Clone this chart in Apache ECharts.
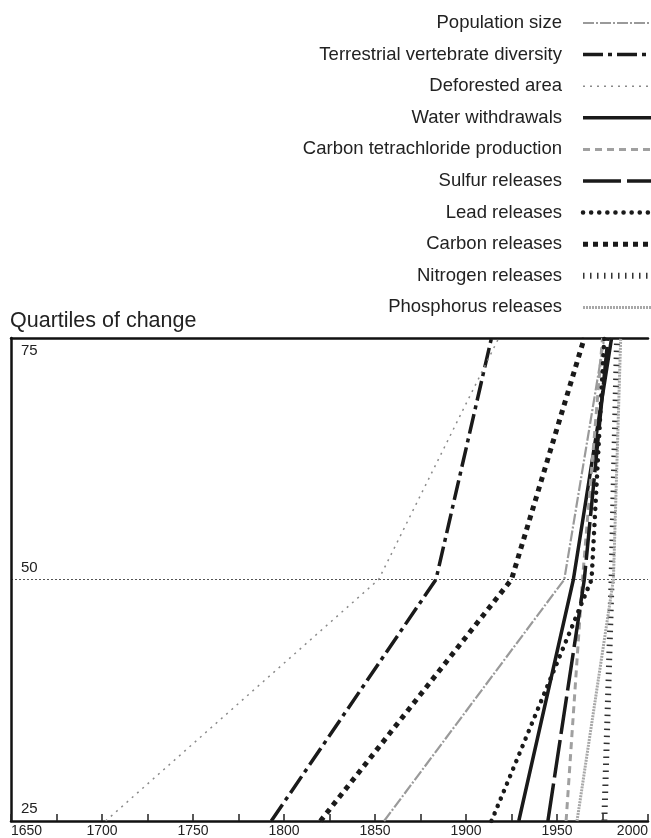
<!DOCTYPE html>
<html>
<head>
<meta charset="utf-8">
<script src="https://cdn.jsdelivr.net/npm/echarts@6/dist/echarts.min.js"></script>
<style>
html,body{margin:0;padding:0;background:#fff;}
#chart{width:651px;height:838px;}
</style>
</head>
<body>
<div id="chart"></div>
<script>
// Quartile levels (y) and the year at which each series reached them (x)
var quartiles = [25, 50, 75];
var seriesNames = [
  'Population size',
  'Terrestrial vertebrate diversity',
  'Deforested area',
  'Water withdrawals',
  'Carbon tetrachloride production',
  'Sulfur releases',
  'Lead releases',
  'Carbon releases',
  'Nitrogen releases',
  'Phosphorus releases'
];
var populationYears    = [1855, 1954, 1976];
var terrestrialYears   = [1793, 1883.5, 1914];
var deforestedYears    = [1702, 1852, 1918];
var waterYears         = [1929, 1959, 1980];
var carbonTetYears     = [1955, 1964, 1975];
var sulfurYears        = [1945, 1965, 1978];
var leadYears          = [1914, 1969, 1976];
var carbonYears        = [1820, 1925, 1965];
var nitrogenYears      = [1976, 1980, 1983];
var phosphorusYears    = [1961, 1981, 1985];
var xTickLabels = [1650, 1700, 1750, 1800, 1850, 1900, 1950, 2000];

var yearsList = [populationYears, terrestrialYears, deforestedYears, waterYears, carbonTetYears,
                 sulfurYears, leadYears, carbonYears, nitrogenYears, phosphorusYears];

var styles = [
  {color:'#9a9a9a', width:2.2, type:[11,2,2,2]},
  {color:'#1a1a1a', width:3.5, type:[20,5,4,5]},
  {color:'#8a8a8a', width:1.5, type:[2,5]},
  {color:'#1a1a1a', width:3.5, type:'solid'},
  {color:'#a0a0a0', width:3, type:[7,5]},
  {color:'#1a1a1a', width:3.5, type:[38,6]},
  {color:'#1a1a1a', width:4.5, type:[0.1,8], cap:'round'},
  {color:'#1a1a1a', width:5, type:[5,5]},
  {color:'#333333', width:6, type:[1.5,5.5]},
  {color:'#a8a8a8', width:3, type:[2,1]}
];

function pairs(years){
  return years.map(function(y, i){ return [y, quartiles[i]]; });
}

var series = seriesNames.map(function(name, i){
  var st = styles[i];
  return {
    name: name,
    type: 'line',
    symbol: 'none',
    silent: true,
    data: pairs(yearsList[i]),
    lineStyle: {color: st.color, width: st.width, type: st.type, cap: st.cap || 'butt'},
    itemStyle: {color: st.color}
  };
});

var chart = echarts.init(document.getElementById('chart'), null, {renderer:'canvas'});
chart.setOption({
  animation: false,
  textStyle: {fontFamily: 'Liberation Sans, Arial, sans-serif'},
  title: {
    text: 'Quartiles of change',
    left: 5, top: 305,
    textStyle: {fontSize: 21.5, fontWeight: 'normal', color: '#222', fontFamily: 'Liberation Sans, Arial, sans-serif'}
  },
  legend: {
    orient: 'vertical',
    right: -33,
    top: 8.5,
    align: 'right',
    itemWidth: 93,
    itemHeight: 14,
    itemGap: 12.6,
    selectedMode: false,
    itemStyle: {opacity: 0, color: 'rgba(0,0,0,0)', borderWidth: 0},
    lineStyle: {width: 'inherit', type: 'inherit', cap: 'inherit', color: 'inherit'},
    textStyle: {fontSize: 18.5, color: '#222', padding: [0, 16, 0, 0], fontFamily: 'Liberation Sans, Arial, sans-serif'},
    data: seriesNames
  },
  grid: {left: 11, right: 0, top: 338, bottom: 11, containLabel: false},
  xAxis: [{
    type: 'value', min: 1650, max: 2000, interval: 25,
    axisLine: {show: true, lineStyle: {color: '#111', width: 2.5}},
    axisTick: {show: true, inside: true, length: 7, lineStyle: {color: '#222', width: 1.5}},
    axisLabel: {
      margin: 3, fontSize: 14, color: '#222',
      showMinLabel: true, showMaxLabel: true,
      alignMinLabel: 'left', alignMaxLabel: 'right',
      formatter: function(v){ return xTickLabels.indexOf(v) >= 0 ? String(v) : ''; }
    },
    splitLine: {show: false}
  }, {
    type: 'value', position: 'top', min: 1650, max: 2000,
    axisLine: {show: true, lineStyle: {color: '#111', width: 2.5}},
    axisTick: {show: false}, axisLabel: {show: false}, splitLine: {show: false}
  }],
  yAxis: {
    type: 'value', min: 25, max: 75, interval: 25,
    axisLine: {show: true, lineStyle: {color: '#111', width: 2.5}},
    axisTick: {show: false},
    axisLabel: {
      inside: true, margin: 10, color: '#222', fontSize: 15,
      formatter: function(v){ return v === 75 ? '{t|' + v + '}' : '{b|' + v + '}'; },
      rich: {
        t: {fontSize: 15, color: '#222', padding: [26, 0, 0, 0]},
        b: {fontSize: 15, color: '#222', padding: [0, 0, 24, 0]}
      }
    },
    splitLine: {show: true, lineStyle: {color: '#555', width: 1, type: [2, 2]}}
  },
  series: series
});
</script>
</body>
</html>
